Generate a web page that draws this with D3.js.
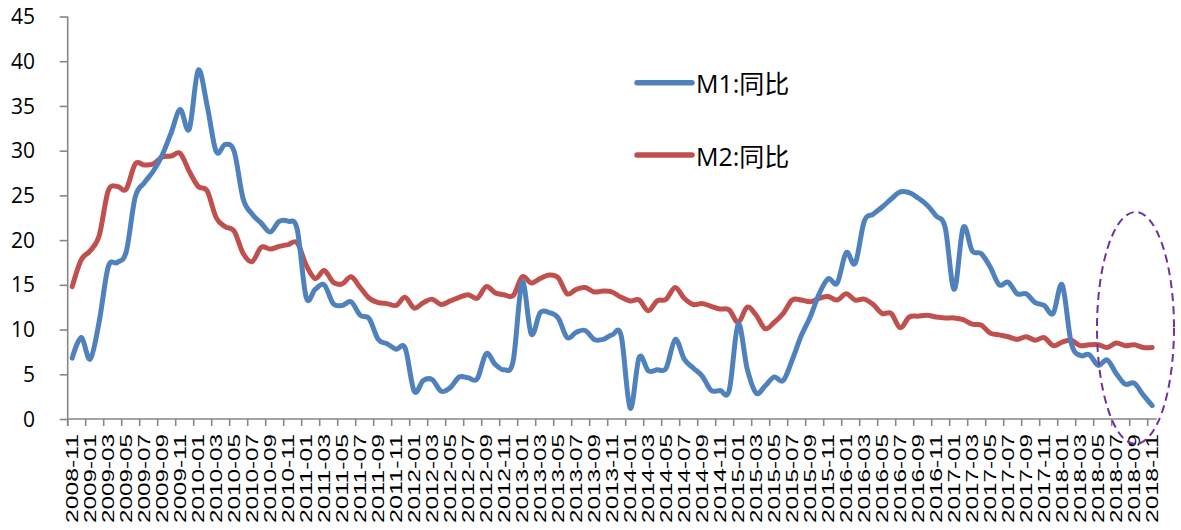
<!DOCTYPE html>
<html>
<head>
<meta charset="utf-8">
<script src="https://cdn.jsdelivr.net/npm/d3@7"></script>
<style>
  html, body { margin: 0; padding: 0; background: #fff; }
  svg { display: block; }
</style>
</head>
<body>
<svg id="chart" width="1181" height="530"></svg>
<script>
// Monthly categories 2008-11 .. 2018-11
const months = [];
for (let yr = 2008, mo = 11; yr < 2018 || (yr === 2018 && mo <= 11); ) {
  months.push(yr + "-" + String(mo).padStart(2, "0"));
  mo++; if (mo > 12) { mo = 1; yr++; }
}

// M1 year-on-year growth (%)
const m1 = [
  6.8, 9.1, 6.7, 10.9, 17.0, 17.5, 18.7, 24.8, 26.4, 27.7, 29.5, 32.0,
  34.6, 32.4, 39.0, 35.0, 29.9, 30.7, 29.9, 24.6, 22.9, 21.9, 20.9, 22.1,
  22.1, 21.2, 13.6, 14.5, 15.0, 12.9, 12.7, 13.1, 11.6, 11.2, 8.9, 8.4,
  7.8, 7.9, 3.1, 4.3, 4.4, 3.1, 3.5, 4.7, 4.6, 4.5, 7.3, 6.1,
  5.5, 6.5, 15.3, 9.5, 11.9, 11.9, 11.3, 9.1, 9.7, 9.9, 8.9, 8.9,
  9.4, 9.3, 1.2, 6.9, 5.4, 5.5, 5.7, 8.9, 6.7, 5.7, 4.8, 3.2,
  3.2, 3.2, 10.6, 5.6, 2.9, 3.7, 4.7, 4.3, 6.6, 9.3, 11.4, 14.0,
  15.7, 15.2, 18.6, 17.4, 22.1, 22.9, 23.7, 24.6, 25.4, 25.3, 24.7, 23.9,
  22.7, 21.4, 14.5, 21.4, 18.8, 18.5, 17.0, 15.0, 15.3, 14.0, 14.0, 13.0,
  12.7, 11.8, 15.0, 8.5, 7.1, 7.2, 6.0, 6.6, 5.1, 3.9, 4.0, 2.7,
  1.5
];

// M2 year-on-year growth (%)
const m2 = [
  14.8, 17.8, 18.8, 20.5, 25.5, 26.0, 25.7, 28.5, 28.4, 28.5, 29.3, 29.4,
  29.7, 27.7, 26.0, 25.5, 22.5, 21.5, 21.0, 18.5, 17.6, 19.2, 19.0, 19.3,
  19.5, 19.7, 17.2, 15.7, 16.6, 15.3, 15.1, 15.9, 14.7, 13.5, 13.0, 12.9,
  12.7, 13.6, 12.4, 13.0, 13.4, 12.8, 13.2, 13.6, 13.9, 13.5, 14.8, 14.1,
  13.9, 13.8, 15.9, 15.2, 15.7, 16.1, 15.8, 14.0, 14.5, 14.7, 14.2, 14.3,
  14.2, 13.6, 13.2, 13.3, 12.1, 13.2, 13.4, 14.7, 13.5, 12.8, 12.9, 12.6,
  12.3, 12.2, 10.8, 12.5, 11.6, 10.1, 10.8, 11.8, 13.3, 13.3, 13.1, 13.5,
  13.7, 13.3, 14.0, 13.3, 13.4, 12.8, 11.8, 11.8, 10.2, 11.4, 11.5, 11.6,
  11.4, 11.3, 11.3, 11.1, 10.6, 10.5, 9.6, 9.4, 9.2, 8.9, 9.2, 8.8,
  9.1, 8.2, 8.6, 8.8, 8.2, 8.3, 8.3, 8.0, 8.5, 8.2, 8.3, 8.0,
  8.0
];

const yTicks = [0, 5, 10, 15, 20, 25, 30, 35, 40, 45];
const seriesNames = ["M1:同比", "M2:同比"];
const seriesColors = ["#4F81BD", "#C0504D"];

const svg = d3.select("#chart");
const plotLeft = 67.7, plotRight = 1156.7, plotTop = 16.5, plotBottom = 419;
const axisColor = "#868686";

const x = d3.scaleBand().domain(months).range([plotLeft, plotRight]).padding(0);
const bw = x.bandwidth();
const cx = d => x(d) + bw / 2;
const y = d3.scaleLinear().domain([0, 45]).range([plotBottom, plotTop]);

// Y axis
const yAxis = svg.append("g").attr("transform", `translate(${plotLeft},0)`)
  .call(d3.axisLeft(y).tickValues(yTicks).tickSize(8).tickPadding(0));
yAxis.select(".domain").attr("d", `M0,${plotTop}V${plotBottom + 7}`)
  .attr("stroke", axisColor).attr("stroke-width", 1.6);
yAxis.selectAll(".tick line").attr("stroke", axisColor).attr("stroke-width", 1.6);
yAxis.selectAll(".tick text").remove();
svg.append("g").selectAll("text").data(yTicks).join("text")
  .attr("x", 35).attr("y", d => y(d)).attr("dy", "0.36em")
  .attr("text-anchor", "end")
  .attr("font-family", "'Open Sans', 'Liberation Sans', sans-serif")
  .attr("font-size", 21).attr("fill", "#000")
  .text(d => d);

// X axis: ticks every two months on band boundaries
const tickIdx = d3.range(0, months.length, 2);
const xAxis = svg.append("g");
xAxis.append("line").attr("x1", plotLeft).attr("x2", plotRight)
  .attr("y1", plotBottom).attr("y2", plotBottom)
  .attr("stroke", axisColor).attr("stroke-width", 1.6);
xAxis.selectAll("line.tk").data(tickIdx).join("line").attr("class", "tk")
  .attr("x1", i => x(months[i])).attr("x2", i => x(months[i]))
  .attr("y1", plotBottom).attr("y2", plotBottom + 7)
  .attr("stroke", axisColor).attr("stroke-width", 1.6);
xAxis.selectAll("text").data(tickIdx).join("text")
  .attr("transform", i => `translate(${cx(months[i])},434) rotate(-90)`)
  .attr("dy", "0.36em")
  .attr("text-anchor", "end")
  .attr("font-family", "'Liberation Sans', Arial, sans-serif")
  .attr("font-size", 16.5).attr("fill", "#000")
  .attr("textLength", 89).attr("lengthAdjust", "spacingAndGlyphs")
  .text(i => months[i]);

// Smoothed series lines (M2 drawn first, M1 on top)
const line = d3.line().x((d, i) => cx(months[i])).y(d => y(d))
  .curve(d3.curveCatmullRom.alpha(0));
[[m2, seriesColors[1]], [m1, seriesColors[0]]].forEach(([s, c]) => {
  svg.append("path").datum(s).attr("d", line)
    .attr("fill", "none").attr("stroke", c)
    .attr("stroke-width", 5).attr("stroke-linecap", "round")
    .attr("stroke-linejoin", "round");
});

// Legend
const legY = [82.7, 155];
seriesNames.forEach((n, k) => {
  svg.append("line").attr("x1", 637).attr("x2", 692)
    .attr("y1", legY[k]).attr("y2", legY[k])
    .attr("stroke", seriesColors[k]).attr("stroke-width", 5.5)
    .attr("stroke-linecap", "round");
  svg.append("text").attr("x", 696).attr("y", legY[k] + 10.5)
    .attr("font-family", "'Open Sans', 'Noto Sans CJK SC', sans-serif")
    .attr("font-size", 25).attr("fill", "#000").text(n);
});

// Highlight ellipse around the latest months
svg.append("ellipse").attr("cx", 1135.5).attr("cy", 328)
  .attr("rx", 38.5).attr("ry", 116)
  .attr("fill", "none").attr("stroke", "#7030A0")
  .attr("stroke-width", 2).attr("stroke-dasharray", "8,5");
</script>
</body>
</html>
